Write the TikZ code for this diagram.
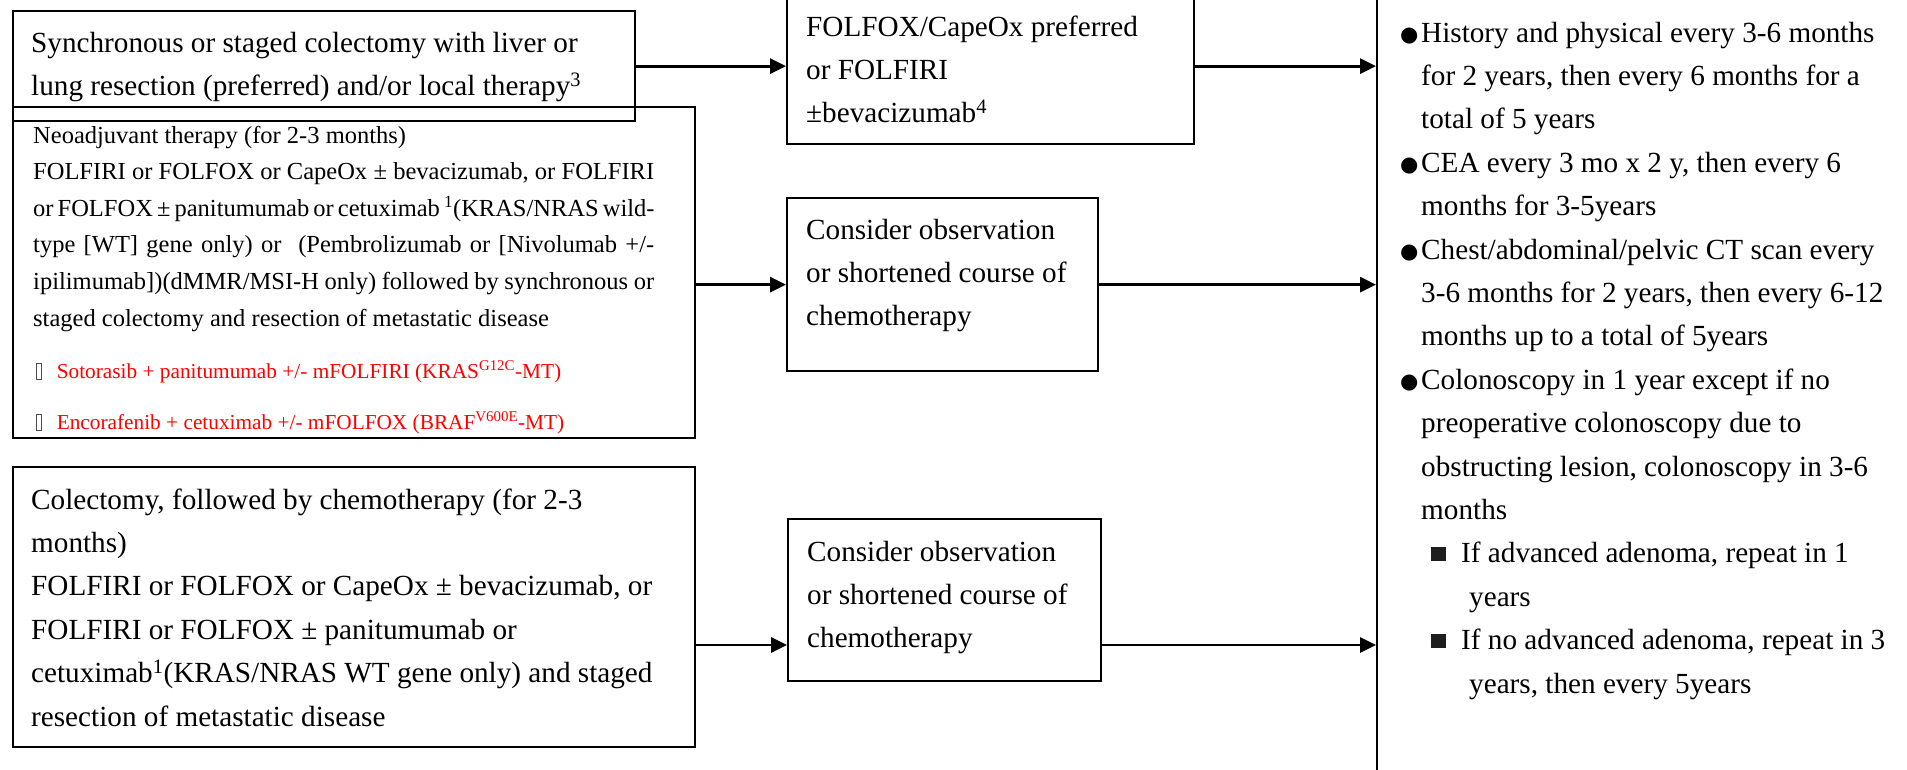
\documentclass[tikz,border=0pt]{standalone}
\usepackage{fontspec}
\setmainfont{Liberation Serif}
\newfontfamily\symbolfont{DejaVu Sans}
\usetikzlibrary{arrows.meta}
\definecolor{alertred}{RGB}{255,0,0}
\definecolor{inkgray}{RGB}{30,30,30}

% missing-glyph placeholder box in front of the red regimens
\newcommand\tofubox{{\color{black!70}\setlength\fboxsep{0pt}\setlength\fboxrule{0.8pt}\fbox{\rule{0pt}{15pt}\hspace{4pt}}}}
% list markers
\newcommand\roundmark{\makebox[21pt][l]{\raisebox{1pt}{\symbolfont\fontsize{21}{21}\selectfont ●}}}
\newcommand\squaremark{\hspace*{31pt}{\color{inkgray}\rule[2pt]{15pt}{14pt}}\hspace*{15pt}}

% text blocks are placed by the baseline of their last line
\tikzset{
  box/.style={draw, line width=2.3pt, rectangle, inner sep=0pt, anchor=north west},
  flow/.style={line width=2.8pt, -{Triangle[length=16pt,width=15pt]}},
  bodytext/.style={anchor=base west, align=left, inner sep=0pt,
    font=\fontsize{29.2}{43.4}\selectfont},
  smalltext/.style={anchor=base west, align=left, inner sep=0pt,
    font=\fontsize{24.5}{36.6}\selectfont},
  redtext/.style={anchor=base west, align=left, inner sep=0pt, text=alertred,
    font=\fontsize{21.3}{25}\selectfont},
}

\begin{document}
\begin{tikzpicture}[x=1pt,y=-1pt]
\useasboundingbox (0,0) rectangle (1907,769);
\fill[white] (0,0) rectangle (1907,769);
\clip (0,0) rectangle (1907,769);

% ---- boxes ----
\node[box, minimum width=622pt, minimum height=110pt] (synch) at (12,10) {};
\node[box, minimum width=682pt, minimum height=331pt] (neoadj) at (12,106) {};
\node[box, minimum width=682pt, minimum height=280pt] (colect) at (12,466) {};
\node[box, minimum width=407pt, minimum height=183pt] (folfox) at (786,-40) {};
\node[box, minimum width=311pt, minimum height=173pt] (obsA) at (786,197) {};
\node[box, minimum width=313pt, minimum height=162pt] (obsB) at (787,518) {};
\node[box, minimum width=640pt, minimum height=860pt] (follow) at (1376,-40) {};

% ---- texts ----
\node[bodytext] (synchtxt) at (31,95.9)
  {Synchronous or staged colectomy with liver or\\
   lung resection (preferred) and/or local therapy\textsuperscript{3}};

\node[smalltext] (neotxt) at (33,326)
  {Neoadjuvant therapy (for 2-3 months)\\
   \makebox[621pt][s]{FOLFIRI or FOLFOX or CapeOx ± bevacizumab, or FOLFIRI}\\
   \makebox[621pt][s]{or FOLFOX ± panitumumab or cetuximab \textsuperscript{1}(KRAS/NRAS wild-}\\
   \makebox[621pt][s]{type [WT] gene only) or\ \ (Pembrolizumab or [Nivolumab +/-}\\
   \makebox[621pt][s]{ipilimumab])(dMMR/MSI-H only) followed by synchronous or}\\
   staged colectomy and resection of metastatic disease};

\node[redtext] (soto) at (36,378.5)
  {\tofubox\hspace{15pt}Sotorasib + panitumumab +/- mFOLFIRI (KRAS\textsuperscript{G12C}-MT)};
\node[redtext] (enco) at (36,429.5)
  {\tofubox\hspace{15pt}Encorafenib + cetuximab +/- mFOLFOX (BRAF\textsuperscript{V600E}-MT)};

\node[bodytext] (colecttxt) at (31,726)
  {Colectomy, followed by chemotherapy (for 2-3\\
   months)\\
   FOLFIRI or FOLFOX or CapeOx ± bevacizumab, or\\
   FOLFIRI or FOLFOX ± panitumumab or\\
   cetuximab\textsuperscript{1}(KRAS/NRAS WT gene only) and staged\\
   resection of metastatic disease};

\node[bodytext] (folfoxtxt) at (806,122.8)
  {FOLFOX/CapeOx preferred\\
   or FOLFIRI\\
   ±bevacizumab\textsuperscript{4}};

\node[bodytext] (obsAtxt) at (806,325.8)
  {Consider observation\\
   or shortened course of\\
   chemotherapy};

\node[bodytext] (obsBtxt) at (807,647.8)
  {Consider observation\\
   or shortened course of\\
   chemotherapy};

\node[bodytext] (followtxt) at (1400,693)
  {\roundmark History and physical every 3-6 months\\
   \hspace*{21pt}for 2 years, then every 6 months for a\\
   \hspace*{21pt}total of 5 years\\
   \roundmark CEA every 3 mo x 2 y, then every 6\\
   \hspace*{21pt}months for 3-5years\\
   \roundmark Chest/abdominal/pelvic CT scan every\\
   \hspace*{21pt}3-6 months for 2 years, then every 6-12\\
   \hspace*{21pt}months up to a total of 5years\\
   \roundmark Colonoscopy in 1 year except if no\\
   \hspace*{21pt}preoperative colonoscopy due to\\
   \hspace*{21pt}obstructing lesion, colonoscopy in 3-6\\
   \hspace*{21pt}months\\
   \squaremark If advanced adenoma, repeat in 1\\
   \hspace*{69pt}years\\
   \squaremark If no advanced adenoma, repeat in 3\\
   \hspace*{69pt}years, then every 5years};

% ---- connectors ----
\coordinate (rowthree) at (0,645);
\draw[flow] (synch.east) -- (folfox.west |- synch.east);
\draw[flow] (folfox.east |- synch.east) -- (follow.west |- synch.east);
\draw[flow] (neoadj.east |- obsA.west) -- (obsA.west);
\draw[flow] (obsA.east) -- (follow.west |- obsA.east);
\draw[flow] (colect.east |- rowthree) -- (obsB.west |- rowthree);
\draw[flow] (obsB.east |- rowthree) -- (follow.west |- rowthree);
\end{tikzpicture}
\end{document}
